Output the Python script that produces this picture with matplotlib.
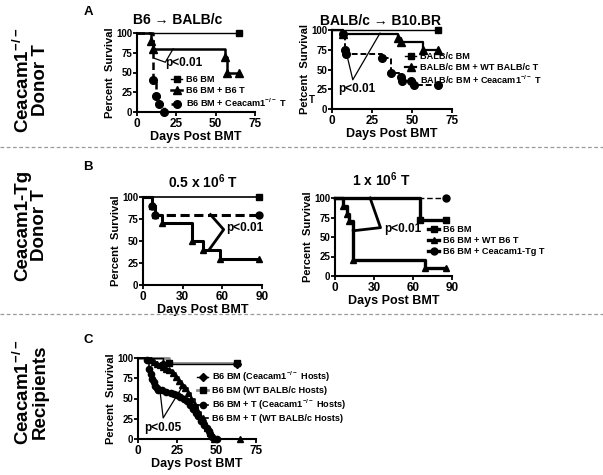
import matplotlib
matplotlib.use("Agg")
import matplotlib.pyplot as plt
from matplotlib.lines import Line2D

plt.rcParams['font.family'] = ['Liberation Sans', 'DejaVu Sans']
plt.rcParams['font.weight'] = 'bold'
plt.rcParams['axes.labelweight'] = 'bold'
plt.rcParams['mathtext.fontset'] = 'custom'
plt.rcParams['mathtext.rm'] = 'Liberation Sans:bold'
plt.rcParams['mathtext.bf'] = 'Liberation Sans:bold'
plt.rcParams['mathtext.it'] = 'Liberation Sans:bold'
plt.rcParams['mathtext.default'] = 'bf'

KO = r'Ceacam1$^{-/-}$'

# ---- panel A left: B6 -> BALB/c
a1_bm_t = [0, 65]
a1_bm_s = [100, 100]
a1_b6t_t = [0, 9, 10, 56, 57, 65]
a1_b6t_s = [100, 90, 80, 70, 50, 50]
a1_ko_t = [0, 10, 12, 14, 17]
a1_ko_s = [100, 40, 20, 10, 0]
a1_labels = ['B6 BM', 'B6 BM + B6 T', 'B6 BM + ' + KO + ' T']
a1_p = ([23, 18, 11], [80, 63, 68])

# ---- panel A right: BALB/c -> B10.BR
a2_bm_t = [0, 66]
a2_bm_s = [100, 100]
a2_wt_t = [0, 7, 41, 43, 57, 66]
a2_wt_s = [100, 95, 90, 85, 75, 75]
a2_ko_t = [0, 7, 8, 9, 31, 37, 43, 44, 51, 66]
a2_ko_s = [100, 95, 75, 70, 65, 45, 40, 35, 30, 30]
a2_labels = ['BALB/c BM', 'BALB/c BM + WT BALB/c T', 'BALB/c BM + ' + KO + ' T']
a2_p = ([9, 13, 30], [71, 37, 96])

# ---- panel B left: 0.5 x 10^6 T
b1_bm_t = [0, 88]
b1_bm_s = [100, 100]
b1_tg_t = [0, 7, 9, 88]
b1_tg_s = [100, 90, 80, 80]
b1_wt_t = [0, 7, 9, 14, 37, 45, 58, 88]
b1_wt_s = [100, 90, 80, 70, 50, 40, 30, 30]
b1_p = ([51, 61, 50], [80, 63, 40])

# ---- panel B right: 1 x 10^6 T
b2_bm_t = [0, 65, 85]
b2_bm_s = [100, 72, 72]
b2_wt_t = [0, 6, 9, 11, 14, 69, 85]
b2_wt_s = [100, 90, 80, 70, 20, 10, 10]
b2_tg_t = [0, 85]
b2_tg_s = [100, 100]
b2_labels = ['B6 BM', 'B6 BM + WT B6 T', 'B6 BM + Ceacam1-Tg T']
b2_p = ([27, 35, 14], [100, 62, 58])

# ---- panel C: Ceacam1-/- recipients
c_bmko_t = [0, 16, 63]
c_bmko_s = [100, 92, 92]
c_bmwt_t = [0, 20, 63]
c_bmwt_s = [100, 94, 94]
c_tko_t = [0, 6, 7, 8, 9, 10, 11, 12, 13, 15, 18, 21, 23, 25, 27, 29, 31,
           33, 35, 37, 38, 40, 42, 44, 45, 46, 47, 50]
c_tko_s = [100, 97, 87, 80, 74, 70, 66, 63, 61, 60, 58, 57, 55, 54, 52, 50,
           47, 42, 37, 32, 28, 22, 17, 13, 10, 6, 3, 0]
c_twt_t = [0, 8, 10, 12, 14, 16, 18, 20, 22, 24, 26, 28, 30, 32, 34, 36, 38,
           40, 42, 44, 46, 47, 48, 65]
c_twt_s = [100, 97, 95, 93, 91, 89, 87, 85, 81, 77, 72, 67, 63, 57, 49, 42,
           33, 26, 20, 14, 8, 5, 0, 0]
c_labels = ['B6 BM (' + KO + ' Hosts)', 'B6 BM (WT BALB/c Hosts)',
            'B6 BM + T (' + KO + ' Hosts)', 'B6 BM + T (WT BALB/c Hosts)']
c_p = ([14, 16, 28], [59, 26, 64])

W, H = 603, 475
fig = plt.figure(figsize=(W / 100, H / 100), dpi=100)


def px(x, y):
    return x / W, 1 - y / H


def make_ax(x0, x1, ytop, ybot, xmax, xstep, ylab='Percent  Survival'):
    ax = fig.add_axes([x0 / W, 1 - ybot / H, (x1 - x0) / W, (ybot - ytop) / H])
    ax.set_xlim(0, xmax)
    ax.set_ylim(0, 100)
    ax.set_xticks(range(0, xmax + 1, xstep))
    ax.set_yticks([0, 25, 50, 75, 100])
    for sp in ['top', 'right']:
        ax.spines[sp].set_visible(False)
    for sp in ['left', 'bottom']:
        ax.spines[sp].set_linewidth(1.5)
    ax.tick_params(axis='both', direction='out', length=3, width=1.3, pad=1)
    ax.tick_params(axis='x', labelsize=8.5)
    ax.tick_params(axis='y', labelsize=7, pad=0.5)
    ax.set_xlabel('Days Post BMT', fontsize=9, labelpad=1)
    ax.set_ylabel(ylab, fontsize=8, labelpad=1)
    ax.patch.set_alpha(0)
    return ax


def km(ax, t, s, marker, lw, ls='-', ms=5, color='black', label=None):
    ax.plot(t, s, drawstyle='steps-post', marker=marker,
            markevery=slice(1, None), ls=ls, lw=lw, ms=ms, color=color,
            mfc='black', mec='black', clip_on=False, label=label)


def pline(ax, pts, lw=0.9):
    ax.plot(pts[0], pts[1], color='black', lw=lw, clip_on=False)


def legend(ax, x, y, **kw):
    fx, fy = px(x, y)
    ax.legend(loc='upper left', bbox_to_anchor=(fx, fy),
              bbox_transform=fig.transFigure, frameon=False, fontsize=6.6,
              handlelength=1.2, handletextpad=0.4, labelspacing=0.22,
              borderpad=0, borderaxespad=0, numpoints=1, **kw)


dash = (0, (3, 1.5))

# A left
ax = make_ax(137, 255, 33, 112, 75, 25)
km(ax, a1_bm_t, a1_bm_s, 's', 1.0, label=a1_labels[0])
km(ax, a1_b6t_t, a1_b6t_s, '^', 1.8, ms=5.5, label=a1_labels[1])
km(ax, a1_ko_t, a1_ko_s, 'o', 1.8, ls=dash, ms=5.5, label=a1_labels[2])
pline(ax, a1_p)
ax.text(18, 62, 'p<0.01', fontsize=8.5, va='center', ha='left')
legend(ax, 171, 75)

# A right
ax = make_ax(332, 452, 30, 109, 75, 25, ylab='Petcent  Survival')
km(ax, a2_bm_t, a2_bm_s, 's', 1.0, label=a2_labels[0])
km(ax, a2_wt_t, a2_wt_s, '^', 1.6, ms=5.5, label=a2_labels[1])
km(ax, a2_ko_t, a2_ko_s, 'o', 1.4, ls=dash, ms=5.5, label=a2_labels[2])
pline(ax, a2_p)
ax.text(4, 25, 'p<0.01', fontsize=8.5, va='center', ha='left')
legend(ax, 405, 52)
fig.text(*px(312, 100), 'T', fontsize=7, ha='center', va='center')

# B left
ax = make_ax(143, 262, 197, 285, 90, 30)
km(ax, b1_bm_t, b1_bm_s, 's', 1.2)
km(ax, b1_tg_t, b1_tg_s, 'o', 2.2, ls=dash)
km(ax, b1_wt_t, b1_wt_s, '^', 2.2)
pline(ax, b1_p, lw=2)
ax.text(63, 65, 'p<0.01', fontsize=8.5, va='center', ha='left')

# B right
ax = make_ax(335, 452, 198, 276, 90, 30)
km(ax, b2_tg_t, b2_tg_s, 'o', 1.0, ls=(0, (4, 2)))
km(ax, b2_bm_t, b2_bm_s, 's', 2.4, label=b2_labels[0])
km(ax, b2_wt_t, b2_wt_s, '^', 2.4, label=b2_labels[1])
pline(ax, b2_p, lw=2)
hh, ll = ax.get_legend_handles_labels()
h3 = Line2D([], [], color='black', lw=2.4, marker='o', ms=5)
legend(ax, 428, 225, handles=hh + [h3], labels=ll + [b2_labels[2]])
ax.text(38, 60, 'p<0.01', fontsize=8.5, va='center', ha='left')

# C
ax = make_ax(138, 256, 358, 439, 75, 25)
km(ax, c_bmwt_t, c_bmwt_s, 's', 2.0, color='#8c8c8c', label=c_labels[1])
km(ax, c_bmko_t, c_bmko_s, 'D', 1.0, ms=4, label=c_labels[0])
km(ax, c_twt_t, c_twt_s, '^', 1.2, ms=4.5, label=c_labels[3])
km(ax, c_tko_t, c_tko_s, 'o', 1.2, ms=4.5, label=c_labels[2])
pline(ax, c_p)
ax.text(4, 14, 'p<0.05', fontsize=8.5, va='center', ha='left')
hh, ll = ax.get_legend_handles_labels()
order = [1, 0, 3, 2]
legend(ax, 197, 370, handles=[hh[i] for i in order], labels=[ll[i] for i in order])

# titles
fig.text(*px(178, 20), 'B6 → BALB/c', fontsize=10, ha='center', va='center')
fig.text(*px(381, 21), 'BALB/c → B10.BR', fontsize=10, ha='center', va='center')
fig.text(*px(203, 182), r'0.5 x 10$^{6}$ T', fontsize=10, ha='center', va='center')
fig.text(*px(381, 180), r'1 x 10$^{6}$ T', fontsize=10, ha='center', va='center')

# panel letters
for let, (x, y) in zip('ABC', [(88, 12), (88, 167), (88, 340)]):
    fig.text(*px(x, y), let, fontsize=9.5, ha='center', va='center')

# row labels
rows = [(KO + '\nDonor T', 80), ('Ceacam1-Tg\nDonor T', 225), (KO + '\nRecipients', 392)]
for txt, y in rows:
    fig.text(*px(31, y), txt, fontsize=13.5, rotation=90, ha='center',
             va='center', linespacing=0.95, multialignment='center')

# separators
for y in [147, 314]:
    fig.add_artist(Line2D([0, 1], [1 - y / H] * 2, color='#9a9a9a', lw=0.9,
                          ls=(0, (3, 2)), transform=fig.transFigure))

fig.savefig('out.png', dpi=100)
